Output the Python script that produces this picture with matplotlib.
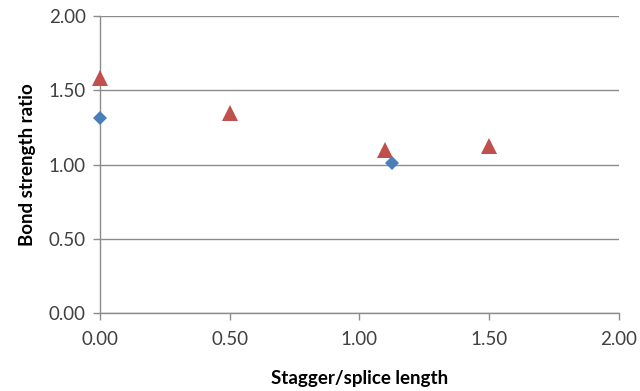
import matplotlib.pyplot as plt

# Data
blue_x = [0.0, 1.125]
blue_y = [1.31, 1.01]
red_x = [0.0, 0.5, 1.10, 1.50]
red_y = [1.58, 1.345, 1.10, 1.125]

x_ticks = [0.0, 0.5, 1.0, 1.5, 2.0]
y_ticks = [0.0, 0.5, 1.0, 1.5, 2.0]

plt.rcParams['font.family'] = ['Lato', 'DejaVu Sans']

fig = plt.figure(figsize=(6.4, 3.91), dpi=100)
ax = fig.add_axes([0.156, 0.1995, 0.811, 0.7595])

grid_col = '#8c8c8c'
ax.plot(blue_x, blue_y, linestyle='none', marker='D', markersize=7.5,
        color='#4a7ebb', markeredgewidth=0, zorder=3, clip_on=False)
ax.plot(red_x, red_y, linestyle='none', marker='^', markersize=11.5,
        color='#c0504d', markeredgewidth=0, zorder=3, clip_on=False)

ax.set_xlim(0, 2)
ax.set_ylim(0, 2)
ax.set_xticks(x_ticks)
ax.set_yticks(y_ticks)
ax.set_xticklabels([f"{v:.2f}" for v in x_ticks])
ax.set_yticklabels([f"{v:.2f}" for v in y_ticks])

ax.yaxis.grid(True, color=grid_col, linewidth=1)
ax.set_axisbelow(True)
for side in ['top', 'right']:
    ax.spines[side].set_visible(False)
for side in ['left', 'bottom']:
    ax.spines[side].set_color(grid_col)
    ax.spines[side].set_linewidth(1)

ax.tick_params(axis='both', direction='out', length=5, width=1, color=grid_col,
               labelsize=13.5, labelcolor='#404040')
ax.tick_params(axis='x', pad=8)
ax.tick_params(axis='y', pad=5)

ax.set_xlabel("Stagger/splice length", fontsize=13.5, fontweight='bold', labelpad=16)
ax.set_ylabel("Bond strength ratio", fontsize=13.5, fontweight='bold', labelpad=9)

fig.savefig("out.png", dpi=100)
